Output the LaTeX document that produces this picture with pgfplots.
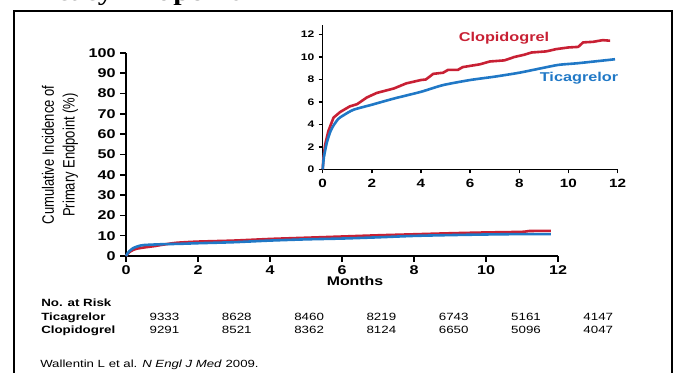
\documentclass[border=0pt]{standalone}
\usepackage{pgfplots}
\pgfplotsset{compat=1.18}
\usepackage{fontspec}
\setmainfont{Liberation Sans}
\newfontfamily\serifb{Liberation Serif}
\definecolor{clopred}{RGB}{200,32,52}
\definecolor{ticblue}{RGB}{32,120,198}

\pgfplotstableread{
x y
0 0
0.05 1.2
0.1 2.0
0.2 3.0
0.3 3.6
0.5 4.2
0.8 4.9
1.0 5.5
1.4 6.5
2 7.1
3 7.6
4 8.4
5 9.0
6 9.6
7 10.2
8 10.7
9 11.2
10 11.6
11 11.9
11.2 12.3
11.8 12.4
}\mainclop

\pgfplotstableread{
x y
0 0
0.05 1.5
0.1 2.5
0.2 3.9
0.35 4.9
0.5 5.4
1 5.8
1.5 6.0
2 6.3
3 6.8
4 7.6
5 8.2
6 8.6
7 9.2
8 9.9
9 10.3
10 10.6
11 10.8
11.8 10.8
}\maintic

\pgfplotstableread{
x y
0 0
0.03 1.0
0.1 2.2
0.23 3.4
0.44 4.6
0.71 5.1
1.1 5.6
1.4 5.8
1.8 6.4
2.2 6.8
2.9 7.2
3.4 7.65
4.0 7.95
4.2 8.0
4.5 8.5
4.9 8.6
5.1 8.85
5.5 8.85
5.7 9.1
6.4 9.35
6.8 9.6
7.4 9.7
7.8 10.0
8.2 10.2
8.5 10.4
9.1 10.5
9.5 10.7
10.0 10.85
10.4 10.9
10.6 11.3
11.0 11.35
11.4 11.5
11.7 11.45
}\insetclop

\pgfplotstableread{
x y
0 0
0.05 1.1
0.16 2.3
0.3 3.3
0.44 3.9
0.64 4.5
0.84 4.8
1.25 5.3
2.0 5.75
2.9 6.3
4.0 6.9
4.9 7.5
6.0 7.95
7.0 8.25
8.0 8.6
8.9 9.0
9.6 9.3
10.4 9.45
11.9 9.8
}\insettic

\begin{document}
\begin{tikzpicture}[x=1pt,y=1pt]
\useasboundingbox (0,0) rectangle (677,372);
% slide frame
\draw[line width=2.5pt] (14,-10) -- (14,361) -- (672,361) -- (672,-10);
% title, cut off at the top edge as in the reference
\node[anchor=base west, xscale=1.27, inner sep=0pt, font=\serifb\bfseries\fontsize{23.5}{26}\selectfont] at (-107,371.5) {Primary Efficacy Endpoint};

% main axis
\begin{axis}[
  at={(126pt,116pt)}, anchor=south west, scale only axis,
  width=432pt, height=203pt,
  xmin=0, xmax=12, ymin=0, ymax=100,
  axis lines=left, axis line style={-, line width=1.6pt},
  xtick={0,2,...,12}, ytick={0,10,...,100},
  tick align=outside, major tick length=6pt,
  tick style={line width=1.6pt, black},
  tick label style={font=\fontsize{12.7}{14}\selectfont\bfseries, xscale=1.27},
  /pgf/number format/assume math mode=true,
  clip=false,
]
\addplot[clopred, line width=2.6pt, smooth, tension=0.4, line join=round] table {\mainclop};
\addplot[ticblue, line width=2.6pt, smooth, tension=0.4, line join=round] table {\maintic};
\end{axis}

% inset axis
\begin{axis}[
  at={(322.7pt,202.7pt)}, anchor=south west, scale only axis,
  width=294.8pt, height=144.3pt,
  xmin=0, xmax=12, ymin=0, ymax=12.85,
  axis lines=left, axis line style={-, line width=1.4pt},
  xtick={0,2,...,12}, ytick={0,2,...,12},
  tick align=outside, major tick length=4pt,
  tick style={line width=1.4pt, black},
  xticklabel style={font=\fontsize{12}{14}\selectfont\bfseries, xscale=1.27, yshift=-2pt},
  yticklabel style={font=\fontsize{9.5}{11}\selectfont\bfseries, xscale=1.27},
  /pgf/number format/assume math mode=true,
  clip=false,
]
\addplot[clopred, line width=2.6pt, line join=round] table {\insetclop};
\addplot[ticblue, line width=2.6pt, smooth, tension=0.4, line join=round] table {\insettic};
\end{axis}

% series labels
\node[text=clopred, xscale=1.27, font=\fontsize{12.8}{14}\selectfont\bfseries] at (504,334) {Clopidogrel};
\node[text=ticblue, xscale=1.27, font=\fontsize{12.8}{14}\selectfont\bfseries] at (579,294) {Ticagrelor};

% axis titles
\node[xscale=1.27, rotate=90, align=center, font=\fontsize{13}{16.5}\selectfont] at (60,217) {Cumulative Incidence of\\Primary Endpoint (\%)};
\node[xscale=1.27, font=\fontsize{12.5}{14}\selectfont\bfseries] at (355,90.5) {Months};

% number at risk
\begin{scope}[every node/.style={xscale=1.27, inner sep=0pt, font=\fontsize{10.5}{12}\selectfont}]
\node[anchor=base west, font=\fontsize{10.5}{12}\selectfont\bfseries] at (41,65) {No. at Risk};
\node[anchor=base west, font=\fontsize{10.5}{12}\selectfont\bfseries] at (41,51) {Ticagrelor};
\node[anchor=base west, font=\fontsize{10.5}{12}\selectfont\bfseries] at (41,38) {Clopidogrel};
\foreach \n [count=\i from 0] in {9333,8628,8460,8219,6743,5161,4147} {
  \node[anchor=base] at (164.5+72.3*\i,51) {\n};
}
\foreach \n [count=\i from 0] in {9291,8521,8362,8124,6650,5096,4047} {
  \node[anchor=base] at (164.5+72.3*\i,38) {\n};
}
\node[anchor=base west, font=\fontsize{10.4}{12}\selectfont] at (40,5) {Wallentin L et al. \textit{N Engl J Med} 2009.};
\end{scope}
\end{tikzpicture}
\end{document}
